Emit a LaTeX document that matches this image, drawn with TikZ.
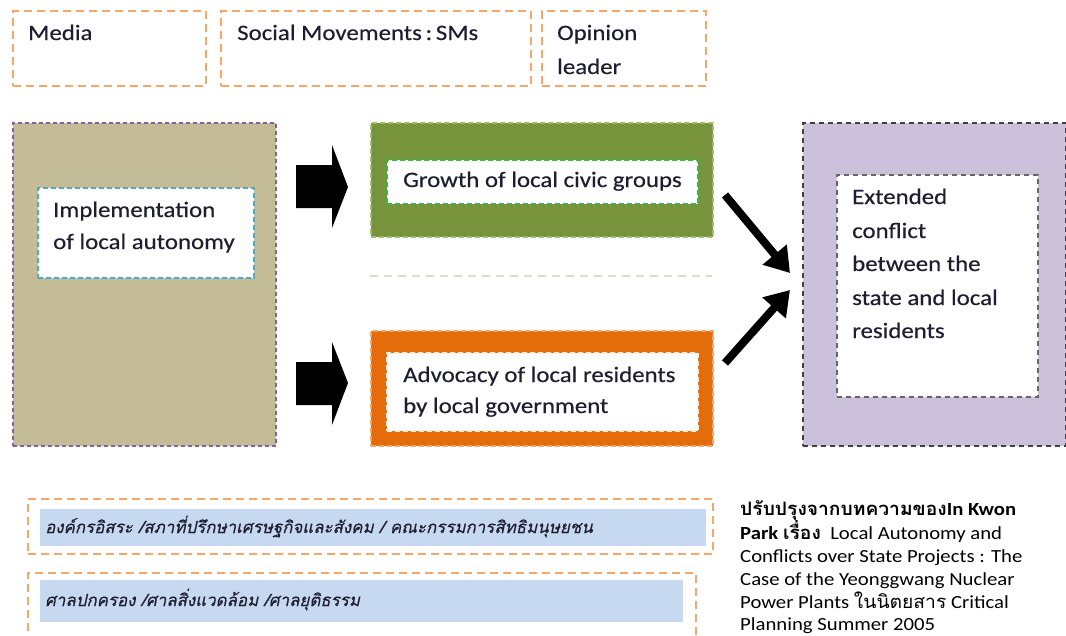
\documentclass[tikz,border=0pt]{standalone}
\usepackage{fontspec}
\setmainfont{Carlito}[FakeStretch=1.12]
\newfontfamily\labfont{Carlito}[FakeStretch=1.13,FakeBold=0.4]
\newfontfamily\thai[Script=Thai,FakeStretch=1.04]{Loma}
\newfontfamily\thaiit[Script=Thai,FakeSlant=0.22,FakeBold=0.3]{Loma}
\usetikzlibrary{arrows.meta}
\definecolor{txt}{HTML}{1E1E30}
\definecolor{tan}{HTML}{C4BC96}
\definecolor{lpurp}{HTML}{8064A2}
\definecolor{cyanb}{HTML}{4BACC6}
\definecolor{grn}{HTML}{77933C}
\definecolor{grnb}{HTML}{A3BD6A}
\definecolor{grnin}{HTML}{3CB44B}
\definecolor{org}{HTML}{E46C0A}
\definecolor{orgb}{HTML}{F2A66A}
\definecolor{purp}{HTML}{CCC1DA}
\definecolor{dgrey}{HTML}{404040}
\definecolor{topor}{HTML}{F8A76A}
\definecolor{lblue}{HTML}{C6D9F1}
\definecolor{faint}{HTML}{D9DDD0}
\begin{document}
\begin{tikzpicture}[x=1pt,y=-1pt,
  box/.style={rectangle,inner sep=0pt,anchor=north west},
  topbox/.style={box,draw=topor,line width=2pt,dash pattern=on 8pt off 5pt},
  lab/.style={inner sep=0pt,anchor=base west,text=txt,font=\fontsize{22}{24}\labfont},
  thailab/.style={inner sep=0pt,anchor=base west,text=txt,font=\fontsize{16.9}{20}\thaiit},
  blockarrow/.style={fill=black},
  conn/.style={line width=8pt,-{Triangle[length=24pt,width=30pt]}}
]
\useasboundingbox (0,0) rectangle (1066,635);
% top boxes
\node[topbox,minimum width=193pt,minimum height=75pt] (media) at (12,10) {};
\node[topbox,minimum width=310pt,minimum height=75pt] (sms) at (220,10) {};
\node[topbox,minimum width=164pt,minimum height=75pt] (op) at (541,10) {};
\node[lab] (tmedia) at (28,40) {Media};
\node[lab] (tsms) at (237,40) {Social Movements\,:\,SMs};
\node[lab] (top1) at (557,40) {Opinion};
\node[lab] (top2) at (557,74) {leader};
% left box
\node[box,fill=tan,draw=lpurp,line width=1.5pt,dash pattern=on 4pt off 3pt,minimum width=263pt,minimum height=323pt] (left) at (12,122) {};
\node[box,fill=white,draw=cyanb,line width=1.5pt,dash pattern=on 5pt off 3pt,minimum width=216pt,minimum height=90pt] (leftin) at (37,187) {};
\node[lab] (l1) at (53,217) {Implementation};
\node[lab] (l2) at (53,249) {of local autonomy};
% block arrows
\fill[blockarrow] (296,165) -- (332,165) -- (332,145) -- (348,187) -- (332,228) -- (332,208) -- (296,208) -- cycle;
\fill[blockarrow] (296,362) -- (332,362) -- (332,342) -- (348,383) -- (332,425) -- (332,405) -- (296,405) -- cycle;
% green box
\node[box,fill=grn,draw=grnb,line width=1.5pt,dash pattern=on 5pt off 3pt,minimum width=342pt,minimum height=114pt] (green) at (370,122) {};
\node[box,fill=white,draw=grnin,line width=1.5pt,dash pattern=on 5pt off 3pt,minimum width=311pt,minimum height=44pt] (greenin) at (386,159) {};
\node[lab] (g1) at (403,187) {Growth of local civic groups};
% faint line
\coordinate (fa) at (370,276);
\coordinate (fb) at (712,276);
\draw[faint,line width=1.5pt,dash pattern=on 8pt off 6pt] (fa) -- (fb);
% orange box
\node[box,fill=org,draw=orgb,line width=1.5pt,dash pattern=on 5pt off 3pt,minimum width=342pt,minimum height=115pt] (orange) at (370,330) {};
\node[box,fill=white,draw=orange!15,line width=1.5pt,dash pattern=on 5pt off 3pt,minimum width=311pt,minimum height=78pt] (orangein) at (386,352) {};
\node[lab] (o1) at (403,382) {Advocacy of local residents};
\node[lab] (o2) at (403,413) {by local government};
% purple box
\node[box,fill=purp,draw=dgrey,line width=1.8pt,dash pattern=on 5pt off 4pt,minimum width=263pt,minimum height=323pt] (right) at (802,122) {};
\node[box,fill=white,draw=dgrey!80,line width=1.5pt,dash pattern=on 5pt off 4pt,minimum width=201pt,minimum height=222pt] (rightin) at (836,174) {};
\node[lab] (r1) at (852,204) {Extended};
\node[lab] (r2) at (852,238) {conflict};
\node[lab] (r3) at (852,271) {between the};
\node[lab] (r4) at (852,305) {state and local};
\node[lab] (r5) at (852,338) {residents};
% diagonal arrows
\coordinate (s1) at (725,195);
\coordinate (e1) at (790,273);
\coordinate (s2) at (725,363);
\coordinate (e2) at (790,290);
\draw[conn] (s1) -- (e1);
\draw[conn] (s2) -- (e2);
% bottom boxes
\node[topbox,minimum width=685pt,minimum height=55pt] (b1) at (27,498) {};
\node[box,fill=lblue,minimum width=666pt,minimum height=37pt] (b1in) at (40,509) {};
\node[thailab] (bt1) at (45,533) {องค์กรอิสระ /สภาที่ปรึกษาเศรษฐกิจและสังคม / คณะกรรมการสิทธิมนุษยชน};
\node[topbox,minimum width=668pt,minimum height=70pt] (b2) at (27,572) {};
\node[box,fill=lblue,minimum width=643pt,minimum height=42pt] (b2in) at (40,580) {};
\node[thailab] (bt2) at (45,606) {ศาลปกครอง /ศาลสิ่งแวดล้อม /ศาลยุติธรรม};
% caption
\node[inner sep=0pt,anchor=north west,align=left,text=black,font=\fontsize{18.5}{22.7}\selectfont] (cap) at (740,500)
{{\bfseries\thai ปรับปรุงจากบทความของ}\textbf{In Kwon}\\
\textbf{Park {\thai เรื่อง}}\ \ Local Autonomy and\\
Conflicts over State Projects : The\\
Case of the Yeonggwang Nuclear\\
Power Plants {\thai ในนิตยสาร} Critical\\
Planning Summer 2005};
\end{tikzpicture}
\end{document}
